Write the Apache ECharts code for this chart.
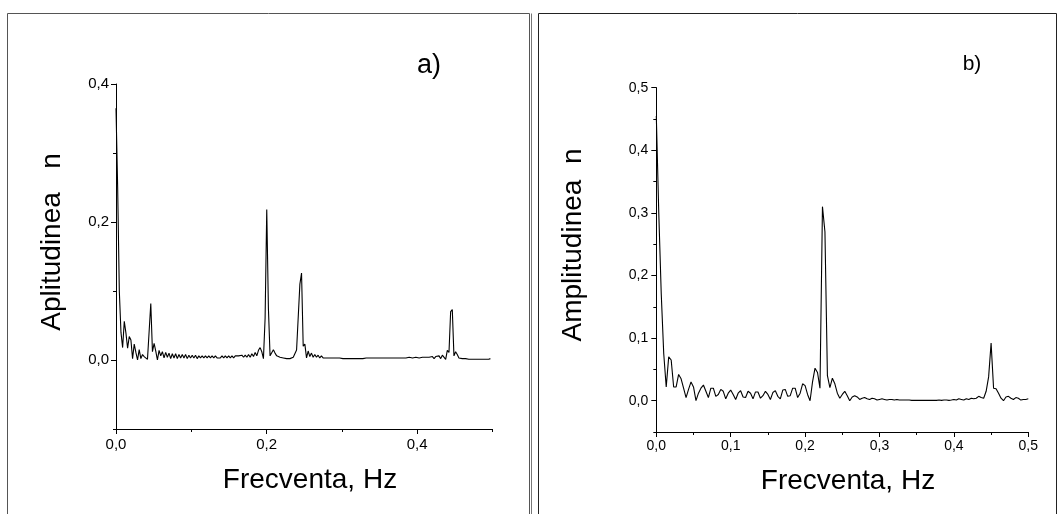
<!DOCTYPE html>
<html>
<head>
<meta charset="utf-8">
<script src="https://cdn.jsdelivr.net/npm/echarts@6.0.0/dist/echarts.min.js"></script>
<style>
  html, body { margin: 0; padding: 0; background: #fff; }
  #spectre { width: 1063px; height: 514px; }
</style>
</head>
<body>
<div id="spectre"></div>
<script>
// pas de frecventa (Hz) pentru fiecare spectru
var pasA = 0.0022;
var pasB = 1 / 300;

// a) amplitudini
var ampA = [
  0.365, 0.25, 0.10, 0.04, 0.018, 0.056, 0.039, 0.017, 0.034, 0.029,
  0.002, 0.023, 0.011, 0.0, 0.015, 0.002, 0.008, 0.005, 0.003, 0.001,
  0.002, 0.082, 0.012, 0.024, 0.013, 0.0, 0.014, 0.006, 0.012, 0.003,
  0.011, 0.004, 0.010, 0.002, 0.009, 0.003, 0.009, 0.002, 0.008, 0.003,
  0.008, 0.003, 0.008, 0.002, 0.007, 0.003, 0.007, 0.003, 0.007, 0.002,
  0.006, 0.003, 0.006, 0.003, 0.006, 0.003, 0.006, 0.003, 0.006, 0.003,
  0.006, 0.003, 0.005, 0.003, 0.006, 0.003, 0.006, 0.003, 0.006, 0.003,
  0.006, 0.003, 0.006, 0.004, 0.006, 0.004, 0.007, 0.004, 0.007, 0.004,
  0.008, 0.004, 0.009, 0.005, 0.011, 0.006, 0.014, 0.018, 0.012, 0.002,
  0.06, 0.218, 0.075, 0.006, 0.005, 0.015, 0.010, 0.006, 0.007, 0.004,
  0.005, 0.003, 0.004, 0.002, 0.003, 0.002, 0.003, 0.004, 0.006, 0.0145,
  0.012, 0.11, 0.126, 0.02, 0.023, 0.003, 0.013, 0.005, 0.010, 0.004,
  0.008, 0.004, 0.007, 0.003, 0.006, 0.003, 0.005, 0.003, 0.005, 0.003,
  0.004, 0.003, 0.004, 0.003, 0.004, 0.003, 0.004, 0.002, 0.004, 0.002,
  0.004, 0.002, 0.004, 0.002, 0.003, 0.002, 0.003, 0.002, 0.003, 0.002,
  0.003, 0.003, 0.003, 0.003, 0.003, 0.003, 0.003, 0.003, 0.003, 0.003,
  0.003, 0.003, 0.003, 0.003, 0.003, 0.003, 0.003, 0.003, 0.002, 0.003,
  0.002, 0.003, 0.002, 0.003, 0.002, 0.003, 0.002, 0.004, 0.002, 0.003,
  0.002, 0.004, 0.002, 0.003, 0.002, 0.004, 0.002, 0.004, 0.002, 0.004,
  0.003, 0.005, 0.002, 0.005, 0.003, 0.006, 0.002, 0.007, 0.005, 0.001,
  0.014, 0.011, 0.07, 0.073, 0.006, 0.012, 0.008, 0.003, 0.005, 0.002,
  0.004, 0.002, 0.003, 0.001, 0.003, 0.001, 0.003, 0.001, 0.003, 0.001,
  0.003, 0.001, 0.002, 0.001, 0.002, 0.001, 0.002
];

// b) amplitudini
var ampB = [
  0.455, 0.30, 0.17, 0.075, 0.022, 0.07, 0.065, 0.022, 0.022, 0.042,
  0.035, 0.02, 0.005, 0.018, 0.03, 0.022, 0.0, 0.012, 0.02, 0.025,
  0.015, 0.005, 0.02, 0.02, 0.007, 0.01, 0.018, 0.015, 0.003, 0.012,
  0.017, 0.01, 0.002, 0.012, 0.016, 0.006, 0.005, 0.015, 0.012, 0.003,
  0.014, 0.014, 0.004, 0.008, 0.015, 0.01, 0.002, 0.013, 0.016, 0.007,
  0.003, 0.017, 0.018, 0.007, 0.008, 0.02, 0.02, 0.005, 0.012, 0.027,
  0.024, 0.01, 0.0, 0.03, 0.052, 0.045, 0.02, 0.31, 0.27, 0.04,
  0.021, 0.036, 0.027, 0.012, 0.004, 0.01, 0.015, 0.008, 0.0, 0.006,
  0.008, 0.006, 0.002, 0.004, 0.005, 0.003, 0.002, 0.004, 0.003, 0.001,
  0.002, 0.003, 0.002, 0.001, 0.002, 0.002, 0.001, 0.002, 0.001, 0.001,
  0.001, 0.001, 0.001, 0.0005, 0.0005, 0.0005, 0.0005, 0.0005, 0.0005, 0.0005,
  0.0005, 0.0005, 0.0005, 0.0005, 0.001, 0.0005, 0.001, 0.001, 0.0005, 0.001,
  0.002, 0.001, 0.003, 0.002, 0.001, 0.003, 0.002, 0.004, 0.003, 0.004,
  0.007, 0.005, 0.004, 0.015, 0.038, 0.092, 0.02, 0.019, 0.012, 0.004,
  0.0, 0.006, 0.007, 0.004, 0.002, 0.005, 0.004, 0.001, 0.002, 0.002, 0.003
];

// etichete pe axe
var xEtA = [0, 0.2, 0.4];
var yEtA = [0, 0.2, 0.4];
var xEtB = [0, 0.1, 0.2, 0.3, 0.4, 0.5];
var yEtB = [0, 0.1, 0.2, 0.3, 0.4, 0.5];

var font = '"Liberation Sans", Arial, sans-serif';

function perechi(amp, pas) {
  var d = [];
  for (var i = 0; i < amp.length; i++) d.push([i * pas, amp[i]]);
  return d;
}

function virgula(v) {
  return v.toFixed(1).replace('.', ',');
}

// axa principala: linie, tick-uri mari, etichete
function axa(grid, pozitie, min, max, pas, valori, marime, margine) {
  return {
    type: 'value', gridIndex: grid, position: pozitie, offset: 0,
    min: min, max: max, interval: pas,
    axisLine: { show: true, onZero: false, lineStyle: { color: '#000', width: 1 } },
    axisTick: { show: true, customValues: valori, length: 5, lineStyle: { color: '#000', width: 1 } },
    axisLabel: { show: true, customValues: valori, formatter: virgula, color: '#000',
                 fontSize: marime, fontFamily: font, margin: margine },
    splitLine: { show: false }
  };
}

// axa secundara, doar tick-urile mici
function axaMica(grid, pozitie, min, max, pas) {
  return {
    type: 'value', gridIndex: grid, position: pozitie, offset: 0,
    min: min, max: max, interval: pas,
    axisLine: { show: false, onZero: false },
    axisTick: { show: true, length: 3, lineStyle: { color: '#000', width: 1 } },
    axisLabel: { show: false },
    splitLine: { show: false }
  };
}

function text(t, x, y, marime, rot) {
  return {
    type: 'text', x: x, y: y, rotation: rot || 0,
    style: { text: t, font: marime + 'px ' + font, fill: '#000',
             align: 'center', verticalAlign: 'middle',
             textAlign: 'center', textVerticalAlign: 'middle' }
  };
}

var option = {
  backgroundColor: '#fff',
  animation: false,
  grid: [
    { left: 116, top: 84, width: 376.5, height: 345 },
    { left: 656.3, top: 87.7, width: 372, height: 344.3 }
  ],
  xAxis: [
    axa(0, 'bottom', 0, 0.5, 0.1, xEtA, 15, 8),
    axaMica(0, 'bottom', 0, 0.5, 0.1),
    axa(1, 'bottom', 0, 0.5, 0.1, xEtB, 14, 7),
    axaMica(1, 'bottom', 0, 0.5, 0.05)
  ],
  yAxis: [
    axa(0, 'left', -0.1, 0.4, 0.1, yEtA, 15, 7),
    axaMica(0, 'left', -0.1, 0.4, 0.1),
    axa(1, 'left', -0.05, 0.5, 0.05, yEtB, 14, 8),
    axaMica(1, 'left', -0.05, 0.5, 0.05)
  ],
  series: [
    {
      name: 'a)', type: 'line', xAxisIndex: 0, yAxisIndex: 0,
      data: perechi(ampA, pasA), symbol: 'none', showSymbol: false,
      lineStyle: { color: '#000', width: 1.1 }
    },
    {
      name: 'b)', type: 'line', xAxisIndex: 2, yAxisIndex: 2,
      data: perechi(ampB, pasB), symbol: 'none', showSymbol: false,
      lineStyle: { color: '#000', width: 1.1 }
    }
  ],
  graphic: [
    { type: 'rect', shape: { x: 7.5, y: 13.5, width: 522, height: 530 },
      style: { fill: null, stroke: '#555', lineWidth: 1 } },
    { type: 'line', shape: { x1: 531.5, y1: 13.5, x2: 531.5, y2: 530 },
      style: { stroke: '#777', lineWidth: 1 } },
    { type: 'rect', shape: { x: 538.5, y: 13.5, width: 518, height: 530 },
      style: { fill: null, stroke: '#222', lineWidth: 1 } },
    text('a)', 429, 66, 27),
    text('b)', 972, 64, 21),
    text('Frecventa, Hz', 310, 480, 28),
    text('Frecventa, Hz', 848, 481, 28),
    text('Aplitudinea   n', 52, 242, 28, Math.PI / 2),
    text('Amplitudinea  n', 573, 245, 28, Math.PI / 2)
  ]
};

var chart = echarts.init(document.getElementById('spectre'));
chart.setOption(option);
</script>
</body>
</html>
